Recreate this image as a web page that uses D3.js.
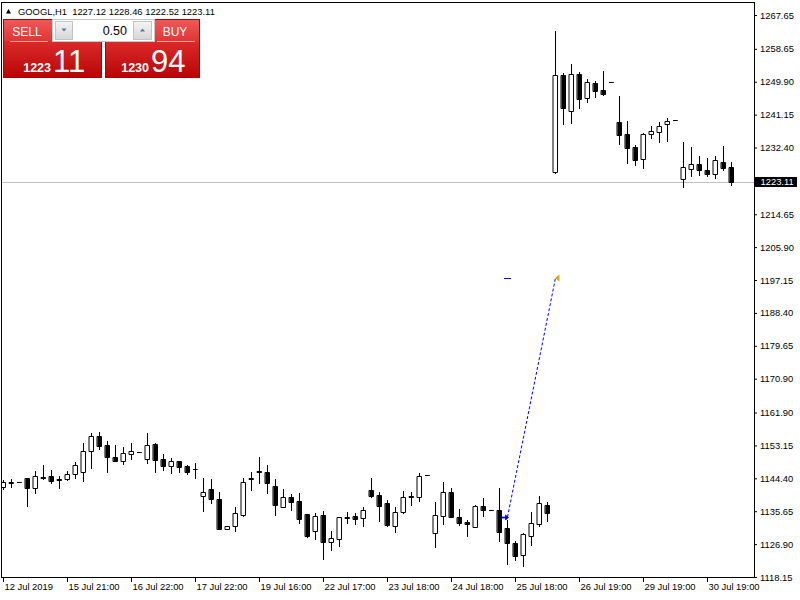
<!DOCTYPE html>
<html>
<head>
<meta charset="utf-8">
<script src="https://cdnjs.cloudflare.com/ajax/libs/d3/7.8.5/d3.min.js"></script>
<style>
	body { margin: 0; background: #fff; }
	svg { display: block; }
</style>
</head>
<body>
<div id="chart"></div>
<script>
//Candle data, GOOGL H1, oldest bar first
var opens = [1142.00,1143.28,1143.33,1144.39,1141.73,1144.82,1145.00,1144.21,1144.21,1145.46,
	1146.15,1151.73,1155.64,1153.25,1149.98,1149.07,1150.78,1151.39,1149.45,1153.52,
	1149.45,1147.74,1148.91,1147.66,1146.87,1139.68,1141.47,1138.81,1130.83,1131.78,
	1134.63,1144.29,1146.25,1145.99,1142.34,1136.68,1139.34,1138.35,1134.90,1130.45,
	1134.55,1127.37,1128.17,1133.91,1134.28,1133.75,1141.28,1139.95,1137.74,1131.78,
	1135.35,1139.68,1139.34,1145.19,1129.76,1134.44,1140.67,1134.02,1132.85,1131.52,
	1137.02,1135.96,1135.96,1131.09,1127.10,1123.99,1129.12,1132.24,1137.29,1225.97,
	1251.69,1242.19,1251.96,1245.49,1249.64,1247.70,1249.75,1239.11,1236.00,1232.62,
	1229.27,1235.92,1236.61,1238.58,1239.72,1223.95,1226.61,1227.94,1226.42,1225.44,
	1228.47,1227.12];
var highs = [1143.94,1144.13,1143.33,1144.39,1146.33,1147.93,1146.60,1145.00,1146.33,1148.81,
	1153.70,1156.36,1156.79,1154.31,1153.25,1152.64,1153.70,1151.39,1156.36,1153.70,
	1150.86,1149.71,1149.07,1147.93,1148.46,1144.55,1144.21,1140.83,1131.78,1136.84,
	1144.39,1145.99,1150.14,1147.93,1144.21,1141.47,1140.22,1140.40,1134.90,1135.24,
	1135.77,1130.45,1134.18,1135.51,1135.24,1136.84,1144.39,1140.83,1138.62,1136.84,
	1141.01,1140.67,1145.72,1145.19,1138.01,1143.33,1141.73,1136.15,1133.30,1137.29,
	1139.07,1135.96,1141.73,1133.30,1127.79,1129.76,1135.51,1139.76,1138.17,1263.39,
	1252.14,1254.62,1252.57,1250.55,1250.09,1252.75,1249.75,1246.10,1239.53,1233.07,
	1236.34,1238.12,1239.11,1240.33,1239.72,1233.79,1232.46,1230.14,1229.53,1230.14,
	1232.80,1228.46];
var lows = [1141.55,1142.16,1143.33,1137.10,1140.40,1144.21,1143.06,1141.89,1143.94,1144.39,
	1143.75,1147.05,1152.19,1145.99,1148.90,1148.12,1149.45,1151.39,1148.38,1146.15,
	1146.60,1145.72,1146.15,1145.46,1144.39,1135.77,1137.74,1130.83,1130.83,1130.45,
	1134.36,1141.28,1143.06,1140.40,1134.63,1136.68,1135.96,1132.42,1128.86,1128.25,
	1122.85,1125.32,1126.46,1132.42,1132.24,1131.78,1139.34,1133.11,1131.84,1130.19,
	1135.08,1137.29,1138.43,1145.19,1126.20,1132.24,1134.02,1131.97,1129.12,1131.36,
	1134.36,1135.96,1127.79,1121.52,1122.66,1121.14,1126.65,1131.78,1133.11,1225.54,
	1238.66,1239.00,1242.99,1244.59,1245.76,1246.37,1249.75,1233.34,1228.36,1227.75,
	1227.03,1235.01,1233.95,1234.21,1239.72,1221.82,1224.90,1225.09,1224.82,1224.37,
	1226.42,1222.52];
var closes = [1143.49,1143.41,1143.33,1141.89,1145.00,1144.47,1143.75,1143.86,1145.46,1147.85,
	1151.57,1155.56,1153.06,1150.14,1149.07,1151.04,1151.65,1151.39,1153.17,1149.34,
	1147.74,1148.99,1147.48,1146.15,1147.00,1140.67,1138.81,1130.83,1131.78,1135.08,
	1143.49,1144.39,1145.99,1143.06,1137.29,1139.34,1138.17,1133.65,1129.04,1134.28,
	1127.53,1128.43,1134.02,1134.02,1133.49,1135.88,1139.76,1137.10,1131.97,1135.35,
	1139.34,1139.34,1145.00,1145.19,1134.63,1140.67,1134.18,1132.58,1132.16,1137.02,
	1135.96,1135.96,1130.19,1127.10,1123.80,1129.50,1132.42,1137.74,1135.08,1251.69,
	1242.99,1251.96,1245.31,1249.83,1247.51,1246.64,1249.75,1235.73,1232.35,1229.08,
	1236.00,1236.79,1238.12,1239.45,1239.72,1227.14,1227.94,1226.42,1225.44,1229.08,
	1227.03,1223.11];

//Axis labels
var xTickLabels = ["12 Jul 2019","15 Jul 21:00","16 Jul 22:00","17 Jul 22:00","19 Jul 16:00","22 Jul 17:00",
	"23 Jul 18:00","24 Jul 18:00","25 Jul 18:00","26 Jul 19:00","29 Jul 19:00","30 Jul 19:00"];
var xTickEvery = 8;
var yTickValues = [1267.65,1258.65,1249.90,1241.15,1232.40,1214.65,1205.90,1197.15,1188.40,
	1179.65,1170.90,1161.90,1153.15,1144.40,1135.65,1126.90,1118.15];
var priceRange = [1118.15, 1267.65];

//Header and trade panel
var symbolTitle = "GOOGL,H1";
var lastBar = [1227.12, 1228.46, 1222.52, 1223.11];
var currentPrice = 1223.11;
var bidParts = ["1223", "11"];
var askParts = ["1230", "94"];
var lotSize = "0.50";

//Trade: open bar/price -> close bar/price, and level marker
var tradeBars = [63, 69];
var tradePrices = [1134.10, 1197.70];
var levelPrice = 1197.70;

//Global variables
var width = 800;
var height = 600;
var plotLeft = 1.5, plotRight = 754.5, plotTop = 2.5, plotBottom = 577.5;
var fontFamily = "'Liberation Sans', Arial, sans-serif";
var axisFontSize = 9.4;

var svg = d3.select("#chart").append("svg")
	.attr("width", width)
	.attr("height", height);

var defs = svg.append("defs");
defs.append("clipPath").attr("id", "plotClip")
	.append("rect")
	.attr("x", 2).attr("y", 3)
	.attr("width", plotRight - 2.5).attr("height", plotBottom - 3.5);

//Define scales
var xScale = d3.scaleLinear()
	.domain([0, opens.length - 1])
	.range([3, 3 + xTickEvery * (opens.length - 1)]);

var yScale = d3.scaleLinear()
	.domain(priceRange)
	.range([577, 15]);

function snap(v) { return Math.round(v) + 0.5; }
function cx(i) { return xScale(i) + 0.5; }

//Current price line (behind the bars)
svg.append("line")
	.attr("x1", plotLeft).attr("x2", plotRight)
	.attr("y1", snap(yScale(currentPrice))).attr("y2", snap(yScale(currentPrice)))
	.attr("stroke", "#c0c0c0");

//Draw candles
var plot = svg.append("g").attr("clip-path", "url(#plotClip)");

var candles = plot.selectAll("g.candle")
	.data(d3.range(opens.length))
	.enter()
	.append("g")
	.classed("candle", true);

candles.append("line")
	.attr("x1", cx).attr("x2", cx)
	.attr("y1", function(i) { return Math.round(yScale(highs[i])); })
	.attr("y2", function(i) { return Math.round(yScale(lows[i])) + 1; })
	.attr("stroke", "#000");

//Body as a path so that flat bars (open == close) still show a dash
candles.append("path")
	.attr("d", function(i) {
		var top = snap(yScale(Math.max(opens[i], closes[i])));
		var bottom = snap(yScale(Math.min(opens[i], closes[i])));
		var left = cx(i) - 2;
		return "M" + left + "," + top + "H" + (left + 4) + "V" + bottom + "H" + left + "Z";
	})
	.attr("fill", function(i) { return closes[i] >= opens[i] ? "#fff" : "#000"; })
	.attr("stroke", "#000")
	.attr("stroke-linecap", "square");

//Trade history line
var tradeLine = d3.line()
	.x(function(d) { return cx(d[0]); })
	.y(function(d) { return yScale(d[1]); });

plot.append("path")
	.datum([[tradeBars[0], tradePrices[0]], [tradeBars[1], tradePrices[1]]])
	.attr("d", tradeLine)
	.attr("fill", "none")
	.attr("stroke", "#0000ff")
	.attr("stroke-dasharray", "3,2");

//Entry arrow (blue, pointing right)
var ax = cx(tradeBars[0]), ay = snap(yScale(tradePrices[0]));
plot.append("path")
	.attr("d", "M" + (ax - 6) + "," + (ay - 0.5) + "H" + (ax - 2) + "V" + (ay - 2.5) + "L" + (ax + 1) + "," + ay +
		"L" + (ax - 2) + "," + (ay + 2.5) + "V" + (ay + 0.5) + "H" + (ax - 6) + "Z")
	.attr("fill", "#0000ff")
	.attr("stroke", "#0000ff")
	.attr("stroke-width", 0.8);

//Level marker
plot.append("line")
	.attr("x1", cx(tradeBars[0]) - 3.5).attr("x2", cx(tradeBars[0]) + 3.5)
	.attr("y1", snap(yScale(levelPrice))).attr("y2", snap(yScale(levelPrice)))
	.attr("stroke", "#0000ff");

//Exit marker (orange, pointing left)
var ex = cx(tradeBars[1]), ey = yScale(tradePrices[1]);
plot.append("path")
	.attr("d", "M" + (ex - 0.5) + "," + ey + "L" + (ex + 4) + "," + (ey - 3.5) + "L" + (ex + 4) + "," + (ey + 3.5) + "Z")
	.attr("fill", "#daa520");

//Frame
svg.append("rect")
	.attr("x", plotLeft).attr("y", plotTop)
	.attr("width", plotRight - plotLeft).attr("height", plotBottom - plotTop)
	.attr("fill", "none")
	.attr("stroke", "#000")
	.attr("shape-rendering", "crispEdges");

//Define Y axis
var yAxis = d3.axisRight(yScale)
	.tickValues(yTickValues)
	.tickSize(3)
	.tickSizeOuter(0)
	.tickFormat(d3.format(".2f"));

var yAxisG = svg.append("g")
	.attr("transform", "translate(754,0)")
	.call(yAxis);
yAxisG.select(".domain").remove();
yAxisG.selectAll("text")
	.attr("x", 6)
	.attr("font-family", fontFamily)
	.attr("font-size", axisFontSize)
	.attr("fill", "#000");

//Define X axis
var xAxis = d3.axisBottom(xScale)
	.tickValues(d3.range(0, opens.length, xTickEvery))
	.tickSize(5)
	.tickSizeOuter(0)
	.tickFormat(function(d, i) { return xTickLabels[i]; });

var xAxisG = svg.append("g")
	.attr("transform", "translate(0,577)")
	.call(xAxis);
xAxisG.select(".domain").remove();
xAxisG.selectAll("text")
	.attr("x", 1)
	.attr("y", 6.5)
	.attr("text-anchor", "start")
	.attr("font-family", fontFamily)
	.attr("font-size", axisFontSize)
	.attr("fill", "#000");

//Current price label
var py = Math.round(yScale(currentPrice));
svg.append("rect")
	.attr("x", 755).attr("y", py - 5)
	.attr("width", 42).attr("height", 10)
	.attr("fill", "#000");
svg.append("text")
	.attr("x", 760.5).attr("y", py)
	.attr("dy", "0.34em")
	.attr("font-family", fontFamily)
	.attr("font-size", axisFontSize)
	.attr("fill", "#fff")
	.text(d3.format(".2f")(currentPrice));

//Header
svg.append("path")
	.attr("d", "M6,13.5L8.5,9L11,13.5Z")
	.attr("fill", "#000");
svg.append("text")
	.attr("x", 18).attr("y", 14.5)
	.attr("font-family", fontFamily)
	.attr("font-size", axisFontSize)
	.style("white-space", "pre")
	.text(symbolTitle + "  " + lastBar.map(d3.format(".2f")).join(" "));

//Trade panel gradients
var gTop = defs.append("linearGradient").attr("id", "btnTop").attr("x1", 0).attr("y1", 0).attr("x2", 0).attr("y2", 1);
gTop.append("stop").attr("offset", "0%").attr("stop-color", "#f05a5a");
gTop.append("stop").attr("offset", "100%").attr("stop-color", "#e03434");
var gBody = defs.append("linearGradient").attr("id", "btnBody").attr("x1", 0).attr("y1", 0).attr("x2", 0).attr("y2", 1);
gBody.append("stop").attr("offset", "0%").attr("stop-color", "#dc2a2a");
gBody.append("stop").attr("offset", "100%").attr("stop-color", "#b80404");
var gSpin = defs.append("linearGradient").attr("id", "spinBtn").attr("x1", 0).attr("y1", 0).attr("x2", 0).attr("y2", 1);
gSpin.append("stop").attr("offset", "0%").attr("stop-color", "#f4f4f4");
gSpin.append("stop").attr("offset", "100%").attr("stop-color", "#d6d6d6");

function drawButton(x, w, label, labelX, lineX, parts, splitX) {
	var g = svg.append("g");
	g.append("rect").attr("x", x).attr("y", 19).attr("width", w).attr("height", 23).attr("fill", "url(#btnTop)");
	g.append("rect").attr("x", x).attr("y", 41).attr("width", w).attr("height", 37).attr("fill", "url(#btnBody)");
	g.append("rect").attr("x", x + 0.5).attr("y", 19.5).attr("width", w - 1).attr("height", 58)
		.attr("fill", "none").attr("stroke", "#b00000");
	g.append("line").attr("x1", lineX[0]).attr("x2", lineX[1]).attr("y1", 41.5).attr("y2", 41.5)
		.attr("stroke", "#f7a0a0");
	g.append("text").attr("x", labelX).attr("y", 35.5)
		.attr("text-anchor", "middle")
		.attr("font-family", fontFamily).attr("font-size", 12)
		.attr("fill", "#fff").text(label);
	g.append("text").attr("x", splitX - 2).attr("y", 71.5)
		.attr("text-anchor", "end")
		.attr("font-family", fontFamily).attr("font-size", 12.5).attr("font-weight", "bold")
		.attr("fill", "#fff").text(parts[0]);
	g.append("text").attr("x", splitX).attr("y", 71.5)
		.attr("font-family", fontFamily).attr("font-size", 31)
		.attr("fill", "#fff").text(parts[1]);
}

drawButton(3, 99, "SELL", 27, [10, 48], bidParts, 53);
drawButton(105, 95, "BUY", 175, [157, 195], askParts, 151);

//Lot spin box
svg.append("rect").attr("x", 52.5).attr("y", 19.5).attr("width", 102).attr("height", 22)
	.attr("fill", "#fff").attr("stroke", "#c8c8c8");
svg.append("rect").attr("x", 55.5).attr("y", 21.5).attr("width", 17).attr("height", 18)
	.attr("fill", "url(#spinBtn)").attr("stroke", "#c4c4c4");
svg.append("rect").attr("x", 133.5).attr("y", 21.5).attr("width", 18).attr("height", 18)
	.attr("fill", "url(#spinBtn)").attr("stroke", "#c4c4c4");
svg.append("path").attr("d", "M61.5,28.5L66.5,28.5L64,31.5Z").attr("fill", "#5b74a8");
svg.append("path").attr("d", "M140,31.5L145,31.5L142.5,28.5Z").attr("fill", "#5b74a8");
svg.append("text").attr("x", 127).attr("y", 35)
	.attr("text-anchor", "end")
	.attr("font-family", fontFamily).attr("font-size", 12.5)
	.attr("fill", "#000").text(lotSize);
</script>
</body>
</html>
